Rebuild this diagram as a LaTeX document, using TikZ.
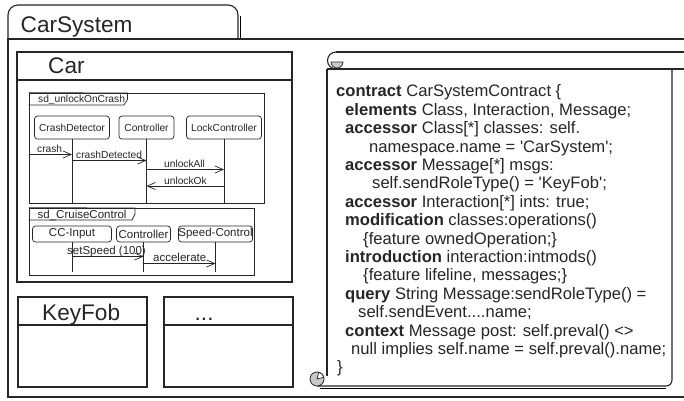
\documentclass[tikz,border=0pt]{standalone}
\usepackage{fontspec}
\setmainfont{Liberation Sans}
\usetikzlibrary{arrows.meta}
\definecolor{ink}{HTML}{262626}
\definecolor{curl}{HTML}{C9C9C9}
\definecolor{shade}{HTML}{B4B4B4}
\tikzset{
  frame/.style={draw=ink, line width=1.1pt},
  thin/.style={draw=ink, line width=0.7pt},
  box/.style={frame, inner sep=0pt, fill=white},
  big/.style={anchor=base west, inner sep=0pt, text=ink, font=\fontsize{22.6}{27}\selectfont},
  headA/.style={thin, rounded corners=3pt, inner sep=0pt, minimum height=23pt, text=ink, font=\fontsize{10.2}{12}\selectfont},
  headB/.style={thin, rounded corners=3pt, inner sep=0pt, minimum height=16pt, text=ink, font=\fontsize{11.5}{13}\selectfont},
  lblA/.style={anchor=base west, inner sep=0pt, text=ink, font=\fontsize{10.2}{12}\selectfont},
  lblB/.style={anchor=base west, inner sep=0pt, text=ink, font=\fontsize{11.5}{13}\selectfont},
  msg/.style={thin, -{Straight Barb[length=8pt,width=7pt]}},
  code/.style={anchor=base west, inner sep=0pt, text=ink, font=\fontsize{16.6}{18}\selectfont},
}
\begin{document}
\begin{tikzpicture}[x=1pt,y=-1pt]
\useasboundingbox (0,0) rectangle (684,400);
\fill[white] (0,0) rectangle (684,400);
\clip (0,0) rectangle (684,400);

% package CarSystem: tab and body
\draw[shade, line width=1.6pt] (240.5,16) -- (240.5,38);
\draw[frame, rounded corners=10pt] (8,39) -- (8,5) -- (238,5) -- (238,39);
\draw[frame] (690,39) -- (8,39) -- (8,397) -- (690,397);
\node[big] (pkgname) at (20.5,32) {CarSystem};

% class Car
\node[box, minimum width=275pt, minimum height=230pt] (car) at (154.5,167) {};
\draw[frame] (car.west |- 0,80) -- (car.east |- 0,80);
\node[big] (carname) at (48,73) {Car};

% sequence diagram sd_unlockOnCrash
\node[thin, inner sep=0pt, minimum width=235pt, minimum height=110pt] (f1) at (146.5,148) {};
\draw[thin] (f1.north west) -- (127.5,93) -- (127.5,99.5) -- (124,105) -- (f1.west |- 0,105);
\node[lblA] (f1name) at (38,102.5) {sd\_unlockOnCrash};
\node[headA, minimum width=75pt] (cd) at (72,127.5) {CrashDetector};
\node[headA, minimum width=55pt] (ct) at (146.5,127.5) {Controller};
\node[headA, minimum width=75pt] (lc) at (224,127.5) {LockController};
\foreach \h in {cd,ct,lc} \draw[thin] (\h.south) -- (\h.south |- f1.south);
\draw[msg] (f1.west |- 0,154.5) -- (cd.south |- 0,154.5);
\node[lblA] (m1) at (37,152.5) {crash};
\draw[msg] (cd.south |- 0,160.5) -- (ct.south |- 0,160.5);
\node[lblA] (m2) at (76,158.5) {crashDetected};
\draw[msg] (ct.south |- 0,169.5) -- (lc.south |- 0,169.5);
\node[lblA] (m3) at (164,167.5) {unlockAll};
\draw[msg] (lc.south |- 0,186) -- (ct.south |- 0,186);
\node[lblA] (m4) at (164,184) {unlockOk};

% sequence diagram sd_CruiseControl
\node[thin, inner sep=0pt, minimum width=225pt, minimum height=67pt] (f2) at (141.5,241.5) {};
\draw[thin] (f2.north west) -- (135,208) -- (135,214) -- (132,220) -- (f2.west |- 0,220);
\node[lblB] (f2name) at (37.5,218.5) {sd\_CruiseControl};
\node[headB, minimum width=79pt] (cc) at (72,234) {CC-Input};
\node[headB, minimum width=54pt] (c2) at (143.5,234) {Controller};
\node[headB, minimum width=74pt] (sc) at (215.5,234) {Speed-Control};
\foreach \h in {cc,c2,sc} \draw[thin] (\h.south) -- (\h.south |- 0,272);
\draw[msg] (cc.south |- 0,256.5) -- (c2.south |- 0,256.5);
\node[lblB] (m5) at (67,254) {setSpeed (100)};
\draw[msg] (c2.south |- 0,263.5) -- (sc.south |- 0,263.5);
\node[lblB] (m6) at (153,261.5) {accelerate};

% classes KeyFob and ...
\node[box, minimum width=129pt, minimum height=90pt] (keyfob) at (82.5,342) {};
\draw[frame] (keyfob.west |- 0,325) -- (keyfob.east |- 0,325);
\node[big] (kfname) at (42,320) {KeyFob};
\node[box, minimum width=129pt, minimum height=90pt] (more) at (228.5,342) {};
\draw[frame] (more.west |- 0,325) -- (more.east |- 0,325);
\node[big] (morename) at (194.5,320) {...};

% contract scroll
\draw[shade, line width=1.4pt] (320,388.5) -- (666,388.5);
\draw[frame] (336,52) -- (690,52);
\draw[frame] (327,69) -- (690,69);
\draw[frame] (336,52) arc[start angle=90, end angle=270, radius=8.5pt];
\filldraw[fill=curl, draw=ink, line width=0.7pt] (331,62) arc[start angle=180, end angle=360, radius=6pt] -- cycle;
\draw[frame] (327,69) -- (327,376);
\draw[frame, rounded corners=6pt] (672,69) -- (672,386) -- (317,386);
\filldraw[fill=curl, draw=ink, line width=0.8pt] (317,379) circle[radius=7pt];
\filldraw[fill=white, draw=ink, line width=0.7pt] (317,379) -- ++(15:7pt) arc[start angle=15, end angle=75, radius=7pt] -- cycle;

\node[code] (c1)  at (336,96.8)  {\textbf{contract} CarSystemContract \{};
\node[code] (c2l) at (345,115.2) {\textbf{elements} Class, Interaction, Message;};
\node[code] (c3)  at (345,133.6) {\textbf{accessor} Class[*] classes: self.};
\node[code] (c4)  at (369,152.0) {namespace.name = \textquotesingle CarSystem\textquotesingle;};
\node[code] (c5)  at (345,170.4) {\textbf{accessor} Message[*] msgs:};
\node[code] (c6)  at (372,188.8) {self.sendRoleType() = \textquotesingle KeyFob\textquotesingle;};
\node[code] (c7)  at (345,207.2) {\textbf{accessor} Interaction[*] ints: true;};
\node[code] (c8)  at (345,225.6) {\textbf{modification} classes:operations()};
\node[code] (c9)  at (363,244.0) {\{feature ownedOperation;\}};
\node[code] (c10) at (345,262.4) {\textbf{introduction} interaction:intmods()};
\node[code] (c11) at (363,280.8) {\{feature lifeline, messages;\}};
\node[code] (c12) at (345,299.2) {\textbf{query} String Message:sendRoleType() =};
\node[code] (c13) at (358,317.6) {self.sendEvent....name;};
\node[code] (c14) at (345,336.0) {\textbf{context} Message post: self.preval() <>};
\node[code] (c15) at (351,354.4) {null implies self.name = self.preval().name;};
\node[code] (c16) at (337,372.8) {\}};
\end{tikzpicture}
\end{document}
